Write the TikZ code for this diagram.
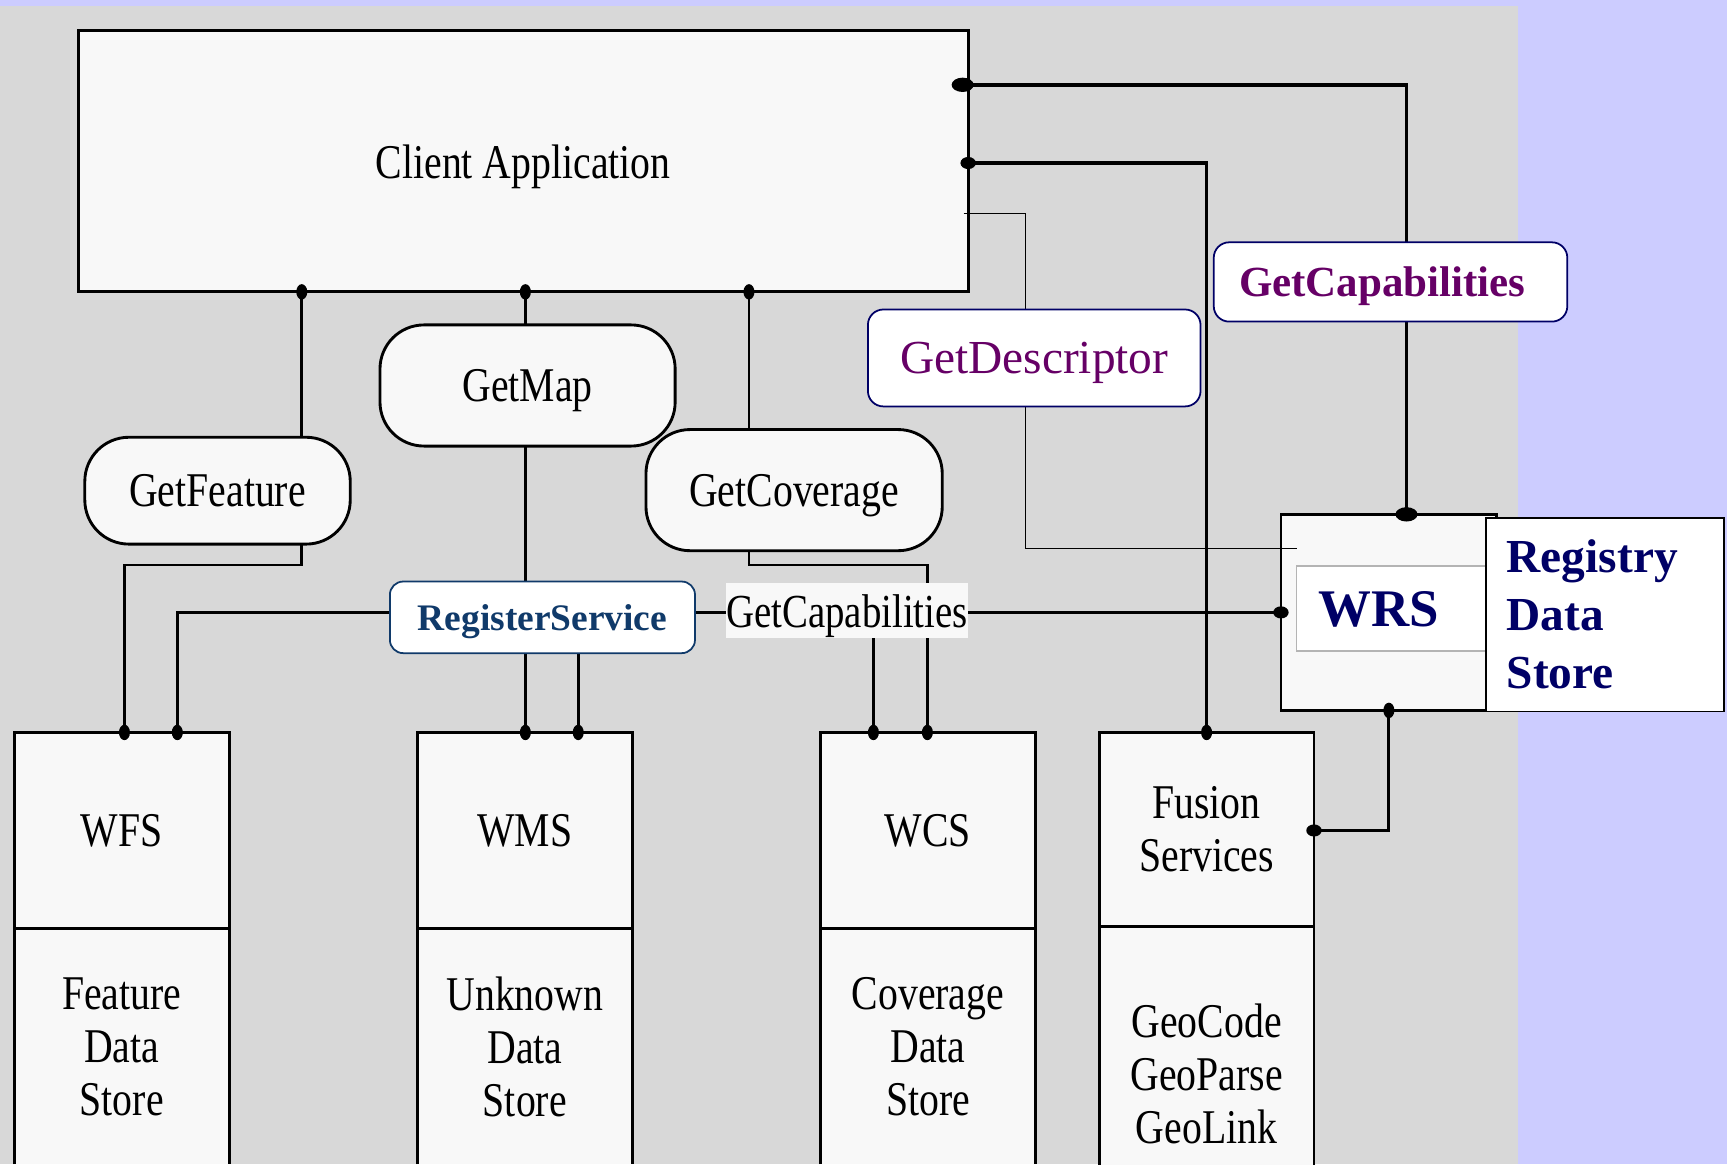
\documentclass[tikz,border=0pt]{standalone}
\usepackage{fontspec}
\setmainfont{Liberation Serif}
\newfontfamily\pixfont[FakeStretch=0.82]{Liberation Serif}
\usetikzlibrary{shapes.geometric,calc}

\definecolor{lavender}{HTML}{CCCCFF}
\definecolor{panel}{HTML}{D8D8D8}
\definecolor{boxfill}{HTML}{F8F8F8}
\definecolor{navy}{HTML}{000066}
\definecolor{plum}{HTML}{660066}
\definecolor{regblue}{HTML}{103A6A}
\definecolor{labelgray}{HTML}{B4B4B4}

\pgfdeclarelayer{back}
\pgfdeclarelayer{wires}
\pgfsetlayers{back,wires,main}

\tikzset{
  box/.style={draw, line width=2.6pt, fill=boxfill, inner sep=0pt, outer sep=0pt, text depth=0pt,
    font=\pixfont\fontsize{44}{48}\selectfont, align=center},
  pill/.style={box, rounded corners=40pt},
  tag/.style={draw=navy, line width=1.6pt, fill=white, rounded corners=14pt, inner sep=0pt, text depth=0pt},
  wire/.style={line width=2.6pt},
  thinwire/.style={line width=1.4pt},
  vdot/.style={ellipse, fill, inner sep=0pt, minimum width=10pt, minimum height=14pt},
  hdot/.style={ellipse, fill, inner sep=0pt, minimum width=14pt, minimum height=11pt},
  bigdot/.style={ellipse, fill, inner sep=0pt, minimum width=20pt, minimum height=13pt},
}

\begin{document}
\begin{tikzpicture}[x=1pt,y=-1pt]
\pgfmathsetmacro{\colw}{195}
\useasboundingbox (0,0) rectangle (1568,1057);
\clip (0,0) rectangle (1568,1057);

\begin{pgfonlayer}{back}
\fill[lavender] (0,0) rectangle (1568,1057);
\fill[panel] (0,5.5) rectangle (1378,1057);
\end{pgfonlayer}

% columns and rows of the wires
\coordinate (colwfs) at (113,0);
\coordinate (colbus) at (161,0);
\coordinate (colfea) at (274,0);
\coordinate (colmap) at (477,0);
\coordinate (colwms) at (525,0);
\coordinate (colcov) at (680,0);
\coordinate (colwcs) at (793,0);
\coordinate (colwcs2) at (842,0);
\coordinate (coldesc) at (931,0);
\coordinate (colwrs) at (1261,0);
\coordinate (colcaps) at (1277,0);
\coordinate (rowtop) at (0,77);
\coordinate (rowmid) at (0,148);
\coordinate (rowthin) at (0,194);
\coordinate (rowthin2) at (0,498);
\coordinate (rowa) at (0,513);
\coordinate (rowfus) at (0,754);

\node[box, minimum width=808pt, minimum height=237pt] (client) at (475,146.5) {Client Application};

\node[pill, minimum width=241pt, minimum height=97pt] (fea) at (197.5,445.5) {GetFeature};
\node[pill, minimum width=268pt, minimum height=110pt] (map) at (479,350) {GetMap};
\node[pill, minimum width=269pt, minimum height=110pt] (cov) at (721,445) {GetCoverage};

\foreach \nm/\cx/\svc/\store in {wfs/110.5/WFS/Feature, wms/476.5/WMS/Unknown, wcs/842.5/WCS/Coverage} {
  \node[box, draw=none, minimum width=\colw pt, minimum height=214pt] (\nm-data) at (\cx,950) {\store\\Data\\Store};
  \draw[wire] (\nm-data.south west) |- (\nm-data.north east) -- (\nm-data.south east);
  \node[box, minimum width=\colw pt, minimum height=178pt] (\nm) at (\cx,754) {\svc};
}

\node[box, draw=none, minimum width=\colw pt, minimum height=268pt] (fus-data) at (1095.5,975) {GeoCode\\GeoParse\\GeoLink};
\draw[wire] (fus-data.south west) |- (fus-data.north east) -- (fus-data.south east);
\node[box, minimum width=\colw pt, minimum height=176pt] (fus) at (1095.5,753) {Fusion\\Services};

\node[box, minimum width=196pt, minimum height=178pt] (wrs) at (1261,556) {};

\node[draw=regblue, line width=1.6pt, fill=white, rounded corners=12pt, inner sep=0pt, text depth=0pt,
  minimum width=277pt, minimum height=65pt, text=regblue,
  font=\bfseries\fontsize{34}{34}\selectfont] (reg) at (492.5,560.5) {RegisterService};
\node[fill=boxfill, inner sep=0pt, text depth=0pt, minimum width=218pt, minimum height=50pt,
  font=\pixfont\fontsize{43}{43}\selectfont] (caps) at (769,554.5) {GetCapabilities};

\begin{pgfonlayer}{wires}
\draw[wire] (client.south -| colfea) -- (fea.north -| colfea);
\draw[wire] (fea.south -| colfea) |- (rowa -| colwfs) -- (wfs.north -| colwfs);
\draw[wire] (client.south -| colmap) -- (map.north -| colmap);
\draw[wire] (map.south -| colmap) -- (wms.north -| colmap);
\draw[wire] (client.south -| colcov) -- (cov.north -| colcov);
\draw[wire] (cov.south -| colcov) |- (rowa -| colwcs2) -- (wcs.north -| colwcs2);

\draw[wire] (wrs.west) -| (wfs.north -| colbus);
\draw[wire] (reg.south -| colwms) -- (wms.north -| colwms);
\draw[wire] (caps.south -| colwcs) -- (wcs.north -| colwcs);

\draw[wire, line width=3.2pt] (client.east |- rowtop) -| (wrs.north -| colcaps);
\draw[wire, line width=3.2pt] (client.east |- rowmid) -| (fus.north);
\draw[wire] (wrs.south -| colwrs) |- (fus.east |- rowfus);
\end{pgfonlayer}

\draw[thinwire] ($(client.east |- rowthin)+(-4,0)$) -| (coldesc |- rowthin2) -- ($(wrs.west |- rowthin2)+(15,0)$);

\node[tag, minimum width=302pt, minimum height=88pt, text=plum,
  font=\fontsize{43}{43}\selectfont] (desc) at (939,325) {GetDescriptor};
\node[tag, minimum width=321pt, minimum height=72pt, text=plum, text width=275pt, align=left, inner xsep=23pt,
  font=\bfseries\fontsize{39}{39}\selectfont] (capsbig) at (1262.5,256) {GetCapabilities};

\node[draw=labelgray, line width=1.2pt, fill=white, inner sep=0pt, inner xsep=20pt, text depth=0pt,
  minimum width=173pt, minimum height=77pt, text width=133pt, align=left, text=navy,
  font=\bfseries\fontsize{48}{48}\selectfont] (wrslabel) at (1263.5,552.5) {WRS};
\node[draw, line width=1.6pt, fill=white, inner sep=0pt, inner xsep=19pt,
  minimum width=216pt, minimum height=176pt, text width=178pt, align=left, text=navy,
  font=\bfseries\fontsize{43}{52.5}\selectfont] (registry) at (1457,558) {Registry\\Data\\Store};

\foreach \p in {client.south -| colfea, client.south -| colmap, client.south -| colcov,
  wfs.north -| colwfs, wfs.north -| colbus, wms.north -| colmap, wms.north -| colwms,
  wcs.north -| colwcs, wcs.north -| colwcs2, fus.north, wrs.south -| colwrs}
  \node[vdot] at (\p) {};
\foreach \p in {wrs.west, fus.east |- rowfus, client.east |- rowmid}
  \node[hdot] at (\p) {};
\node[bigdot] at ($(client.east |- rowtop)+(-5,0)$) {};
\node[bigdot] at (wrs.north -| colcaps) {};
\end{tikzpicture}
\end{document}
